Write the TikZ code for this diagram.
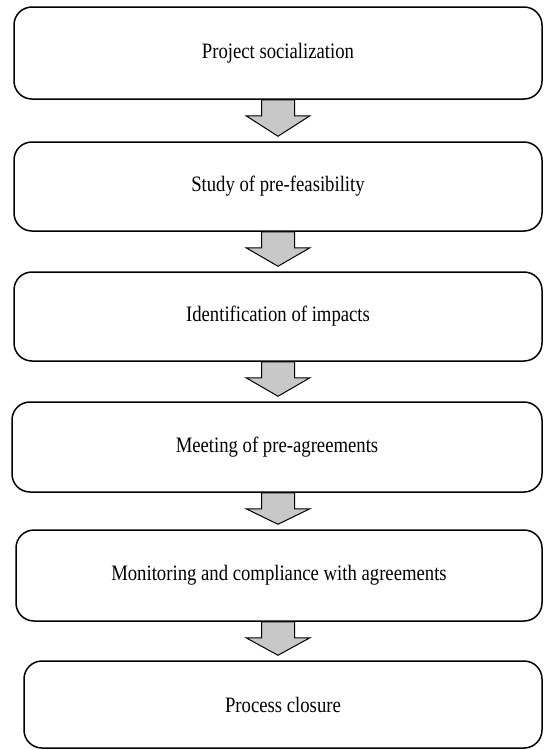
\documentclass[tikz,border=0pt]{standalone}
\usepackage{fontspec}
\setmainfont[FakeStretch=0.85]{Liberation Serif}
\usetikzlibrary{calc}
\definecolor{arrowgrey}{RGB}{200,200,200}
\tikzset{
  stepbox/.style={draw=black, line width=1.5pt, rounded corners=18pt, inner sep=0pt,
    font=\fontsize{22}{26}\selectfont, align=center},
  blockarrow/.style={draw=black, line width=1pt, fill=arrowgrey, line join=miter}
}
\newcommand\flowarrow[2]{%
  \draw[blockarrow]
    ($(ax|-#1.south)+(-16.5,0)$) -- ($(ax|-#1.south)+(-16.5,16)$) --
    ($(ax|-#1.south)+(-32,16)$) -- ($(ax|-#2.north)+(0,-5)$) --
    ($(ax|-#1.south)+(32,16)$) -- ($(ax|-#1.south)+(16.5,16)$) --
    ($(ax|-#1.south)+(16.5,0)$) -- cycle;}
\begin{document}
\begin{tikzpicture}[x=1pt,y=-1pt]
\useasboundingbox (0,0) rectangle (544,750);
\coordinate (ax) at (278,0);
\node[stepbox, minimum width=528pt, minimum height=92pt] (b1) at (278,53) {Project socialization};
\node[stepbox, minimum width=528pt, minimum height=89pt] (b2) at (278,186.5) {Study of pre-feasibility};
\node[stepbox, minimum width=528pt, minimum height=89pt] (b3) at (278,316.5) {Identification of impacts};
\node[stepbox, minimum width=530pt, minimum height=90pt] (b4) at (277,447) {Meeting of pre-agreements};
\node[stepbox, minimum width=526pt, minimum height=91pt] (b5) at (279,575.5) {Monitoring and compliance with agreements};
\node[stepbox, minimum width=518pt, minimum height=87pt] (b6) at (283,704.5) {Process closure};
\flowarrow{b1}{b2}
\flowarrow{b2}{b3}
\flowarrow{b3}{b4}
\flowarrow{b4}{b5}
\flowarrow{b5}{b6}
\end{tikzpicture}
\end{document}
